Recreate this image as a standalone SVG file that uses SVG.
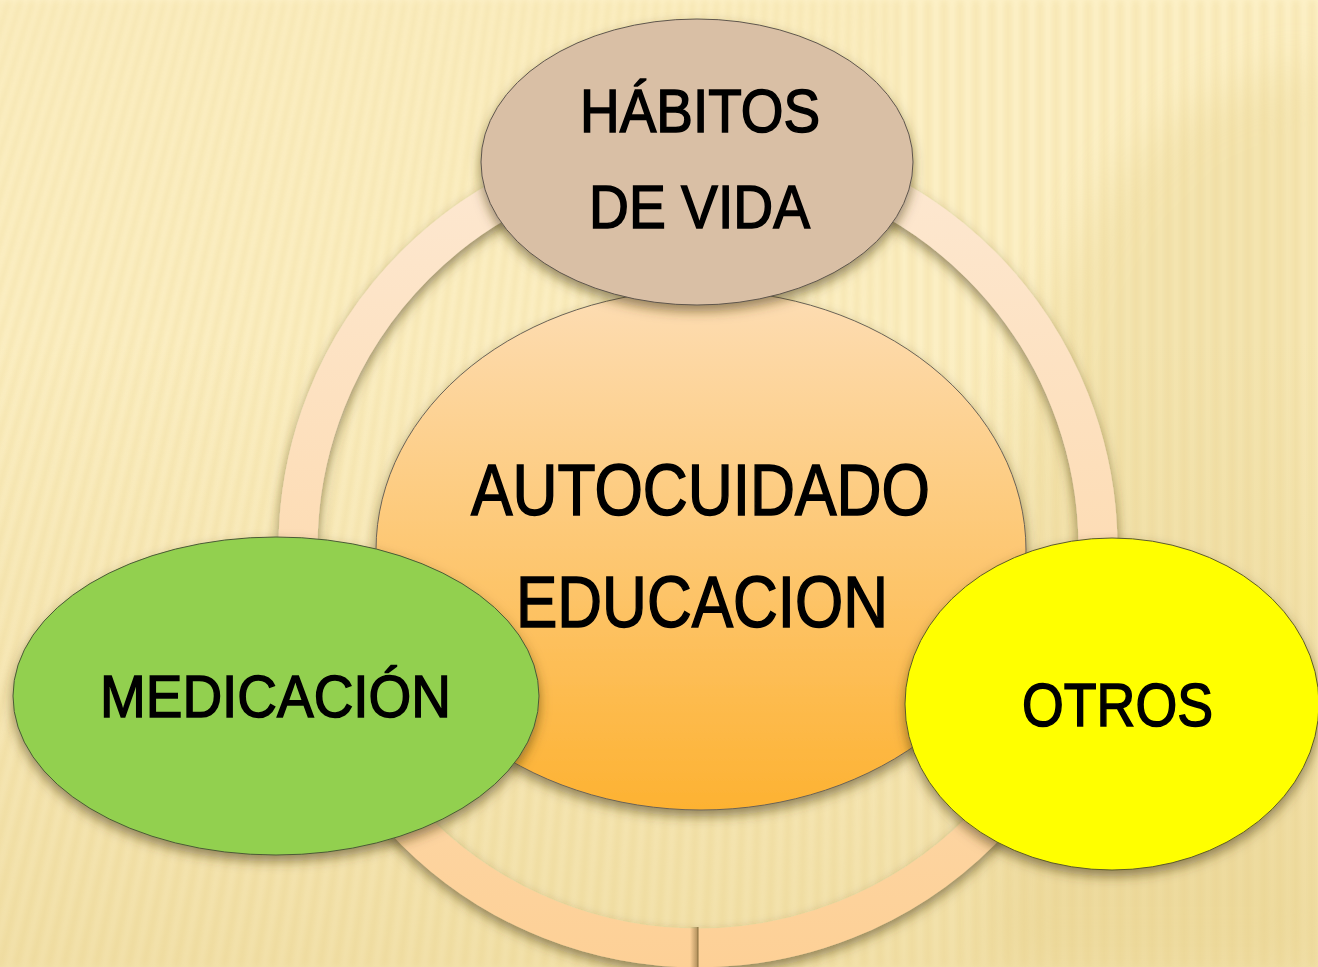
<svg xmlns="http://www.w3.org/2000/svg" width="1318" height="967" viewBox="0 0 1318 967">
<defs>
<style>
.lbl{font-family:"Liberation Sans",Arial,sans-serif;fill:#000;stroke:#000;stroke-width:1.5;}
.node{filter:url(#shadow);}
</style>
<filter id="shadow" x="-20%" y="-20%" width="140%" height="150%">
<feDropShadow dx="0" dy="6" stdDeviation="6" flood-color="#4a3a10" flood-opacity="0.55"/>
</filter>
<filter id="soft" x="-5%" y="-5%" width="110%" height="110%">
<feGaussianBlur stdDeviation="3"/>
</filter>
<filter id="bigblur"><feGaussianBlur stdDeviation="25"/></filter>
<linearGradient id="ringG" gradientUnits="userSpaceOnUse" x1="0" y1="128" x2="0" y2="967">
<stop offset="0" stop-color="#FDE9D4"/>
<stop offset="1" stop-color="#FDD096"/>
</linearGradient>
<linearGradient id="centerG" x1="0" y1="0" x2="0" y2="1">
<stop offset="0" stop-color="#FDDDB4"/>
<stop offset="1" stop-color="#FDB232"/>
</linearGradient>
<linearGradient id="bgShade" x1="0" y1="0" x2="0" y2="1">
<stop offset="0.35" stop-color="#E2C97E" stop-opacity="0"/>
<stop offset="1" stop-color="#E2C97E" stop-opacity="0.4"/>
</linearGradient>
<linearGradient id="seamG" x1="0" y1="0" x2="1" y2="0">
<stop offset="0" stop-color="#7a6030" stop-opacity="0"/>
<stop offset="1" stop-color="#7a6030" stop-opacity="0.6"/>
</linearGradient>
</defs>

<g id="background">
<rect x="0" y="0" width="1318" height="967" fill="#FDF1C8"/>
<path filter="url(#soft)" stroke="#F0DC9C" stroke-width="6" fill="none" opacity="0.6" d="
M-320 967L-15 0M-304 967L-3 0M-288 967L9 0M-272 967L21 0M-256 967L33 0M-240 967L45 0M-224 967L57 0M-208 967L69 0
M-192 967L81 0M-176 967L93 0M-160 967L105 0M-144 967L117 0M-128 967L129 0M-112 967L141 0M-96 967L153 0M-80 967L165 0
M-64 967L177 0M-48 967L189 0M-32 967L201 0M-16 967L213 0M0 967L225 0M16 967L237 0M32 967L249 0M48 967L261 0
M64 967L273 0M80 967L285 0M96 967L297 0M112 967L309 0M128 967L321 0M144 967L333 0M160 967L345 0M176 967L357 0
M192 967L369 0M208 967L381 0M224 967L393 0M240 967L405 0M256 967L417 0M272 967L429 0M288 967L441 0M304 967L453 0
M320 967L465 0M336 967L477 0M352 967L489 0M368 967L501 0M384 967L513 0M400 967L525 0M416 967L537 0M432 967L549 0
M448 967L561 0M464 967L573 0M480 967L585 0M496 967L597 0M512 967L609 0M528 967L621 0M544 967L633 0M560 967L645 0
M576 967L657 0M592 967L669 0M608 967L681 0M624 967L693 0M640 967L705 0M656 967L717 0M672 967L729 0M688 967L741 0
M704 967L753 0M720 967L765 0M736 967L777 0M752 967L789 0M768 967L801 0M784 967L813 0M800 967L825 0M816 967L837 0
M832 967L849 0M848 967L861 0M864 967L873 0M880 967L885 0M896 967L897 0M912 967L912 0M928 967L928 0M944 967L944 0
M960 967L960 0M976 967L976 0M992 967L992 0M1008 967L1008 0M1024 967L1024 0M1040 967L1040 0M1056 967L1056 0M1072 967L1072 0
M1088 967L1088 0M1104 967L1104 0M1120 967L1120 0M1136 967L1136 0M1152 967L1152 0M1168 967L1168 0M1184 967L1184 0M1200 967L1200 0
M1216 967L1216 0M1232 967L1232 0M1248 967L1248 0M1264 967L1264 0M1280 967L1280 0M1296 967L1296 0M1312 967L1312 0"/>
<polygon points="1318,62 1270,72 1180,110 1110,180 1060,270 1020,400 990,967 1318,967" fill="#E6D08A" opacity="0.35" filter="url(#bigblur)"/>
<rect x="0" y="0" width="1318" height="967" fill="url(#bgShade)"/>
</g>

<g id="connectors">
<circle cx="698" cy="548" r="400" fill="none" stroke="url(#ringG)" stroke-width="39" filter="url(#shadow)"/>
<rect x="690" y="927" width="8" height="42" fill="url(#seamG)"/>
<line x1="698" y1="927" x2="698" y2="967" stroke="#8a7040" stroke-width="1"/>
</g>

<g id="node-center" class="node">
<ellipse cx="701" cy="550" rx="325" ry="260" fill="url(#centerG)" stroke="#6b6355" stroke-width="1"/>
<text class="lbl" x="471" y="515" font-size="72" textLength="459" lengthAdjust="spacingAndGlyphs">AUTOCUIDADO</text>
<text class="lbl" x="516" y="627" font-size="72" textLength="372" lengthAdjust="spacingAndGlyphs">EDUCACION</text>
</g>

<g id="node-habitos" class="node">
<ellipse cx="697" cy="162" rx="216" ry="143" fill="#D9BFA5" stroke="#5f564c" stroke-width="1"/>
<text class="lbl" x="580" y="132" font-size="61" textLength="240" lengthAdjust="spacingAndGlyphs">HÁBITOS</text>
<text class="lbl" x="589" y="228" font-size="61" textLength="221" lengthAdjust="spacingAndGlyphs">DE VIDA</text>
</g>

<g id="node-medicacion" class="node">
<ellipse cx="276" cy="696" rx="263" ry="159" fill="#92D050" stroke="#4b5a36" stroke-width="1"/>
<text class="lbl" x="100" y="717" font-size="60" textLength="351" lengthAdjust="spacingAndGlyphs">MEDICACIÓN</text>
</g>

<g id="node-otros" class="node">
<ellipse cx="1112" cy="704" rx="207" ry="166" fill="#FFFF00" stroke="#5d5a2a" stroke-width="1"/>
<text class="lbl" x="1022" y="726" font-size="61" textLength="191" lengthAdjust="spacingAndGlyphs">OTROS</text>
</g>
</svg>
